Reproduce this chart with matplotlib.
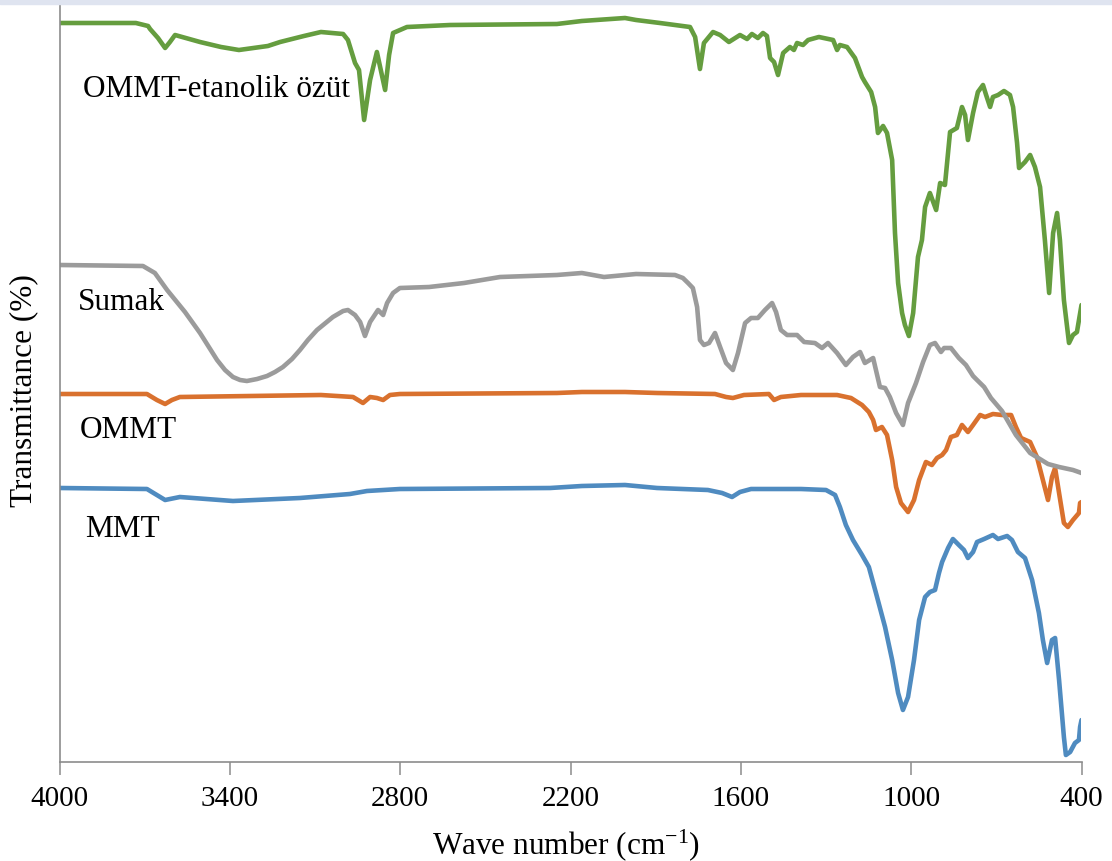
import matplotlib
matplotlib.use("Agg")
import matplotlib.pyplot as plt
from matplotlib.patches import Rectangle

plt.rcParams['font.family'] = ['Liberation Serif', 'DejaVu Serif']
plt.rcParams['mathtext.fontset'] = 'custom'
plt.rcParams['mathtext.rm'] = 'Liberation Serif'
plt.rcParams['mathtext.it'] = 'Liberation Serif:italic'

# FTIR spectra (wavenumber in cm-1, transmittance in arbitrary offset units)
ozut_wn = [4000, 3731, 3688, 3681, 3653, 3628, 3611, 3593, 3505, 3431, 3368, 3266, 3223, 3139, 3079, 3001,
           2984, 2959, 2945,
           2927, 2906, 2882, 2853, 2839, 2825, 2776, 2624, 2248, 2160, 2008, 1969, 1885, 1779, 1761, 1744,
           1730, 1698, 1673, 1642, 1603, 1578, 1561, 1540, 1522, 1508, 1497, 1483, 1469, 1451, 1427, 1413,
           1402, 1381, 1363, 1325, 1275, 1261, 1251, 1226, 1198, 1173, 1163, 1141, 1127, 1117, 1099, 1085,
           1067, 1057, 1046, 1032, 1022, 1008, 993, 976, 962, 951, 934, 912, 898, 881, 863, 839, 821, 810,
           800, 782, 765, 747, 736, 722, 712, 694, 673, 652, 641, 627, 620, 599, 581, 564, 546, 529, 514,
           500, 486, 476, 462, 444, 430, 416, 400]
ozut_t = [739, 739, 736, 733, 724, 714, 720, 727, 720, 715, 712, 716, 720, 726, 730, 728,
          722, 699, 692,
          642, 682, 710, 672, 707, 729, 735, 737, 738, 741, 744, 742, 739, 735, 725, 693,
          719, 730, 727, 720, 727, 723, 728, 724, 729, 726, 704, 700, 687, 709, 715, 712,
          719, 717, 722, 725, 722, 712, 717, 715, 704, 685, 680, 670, 655, 629, 636, 629,
          602, 529, 479, 449, 437, 426, 449, 505, 522, 555, 569, 552, 579, 577, 630, 634, 655, 647,
          622, 649, 670, 677, 667, 655, 665, 667, 671, 667, 655, 619, 594, 600, 607, 595, 575, 522, 469,
          529, 549, 522, 462, 419, 427, 430, 457]

sumak_wn = [4000, 3706, 3664, 3621, 3558, 3505, 3445, 3417, 3389, 3364, 3340, 3304, 3269, 3241, 3213, 3181,
            3153, 3125, 3093, 3037, 3001, 2984,
            2959, 2941, 2924, 2906, 2878, 2860, 2846, 2825, 2801, 2698, 2575, 2448, 2248, 2160, 2082, 1969,
            1832, 1804, 1786, 1769, 1754, 1744, 1730, 1712, 1691, 1673, 1652, 1628, 1610, 1585, 1564, 1540,
            1515, 1490, 1476, 1459, 1437, 1402, 1377, 1339, 1314, 1293, 1261, 1230, 1205, 1180, 1163, 1134,
            1110, 1092, 1075, 1053, 1029, 1011, 983, 958, 934, 916, 895, 884, 860, 832, 807, 782, 768, 743,
            719, 680, 631, 581, 518, 479, 430, 400]
sumak_t = [497, 496, 489, 472, 450, 429, 402, 392, 385, 382, 381, 383, 386, 390, 395, 403,
           412, 422, 432, 445, 451, 452,
           447, 440, 426, 440, 452, 447, 459, 469, 474, 475, 479, 485, 487, 489, 485, 488,
           487, 484, 479, 474, 455, 422, 417, 419, 429, 415, 399, 392, 409, 439, 444, 444,
           452, 459, 450, 432, 427, 427, 420, 419, 414, 419, 409, 397, 405, 410, 399, 404,
           375, 374, 365, 349, 337, 359, 379, 400, 417, 419, 410, 414, 414, 404, 397, 386, 382, 375,
           364, 351, 327, 309, 298, 295, 292, 289]

ommt_wn = [4000, 3692, 3657, 3628, 3604, 3576, 3079, 2966, 2931, 2906, 2882, 2860, 2836, 2801, 2248, 2160,
           2008, 1895, 1691, 1652, 1628, 1589, 1501, 1483, 1459, 1388, 1261, 1212, 1173, 1149, 1134, 1124,
           1103, 1085, 1067, 1053, 1036, 1011, 990, 972, 948, 927, 909, 891, 877, 860, 839, 821, 800, 782,
           757, 740, 712, 680, 648, 631, 613, 581, 557, 536, 518, 504, 493, 479, 462, 448, 430, 409, 405, 400]
ommt_t = [368, 368, 362, 358, 362, 365, 367, 365, 359, 365, 364, 362, 367, 368, 369, 370,
          370, 369, 368, 365, 364, 367, 368, 362, 365, 367, 367, 364, 357, 350, 342, 332,
          335, 327, 302, 275, 259, 250, 262, 282, 300, 297, 304, 307, 312, 325, 327, 337, 330, 337,
          347, 345, 348, 347, 347, 335, 324, 320, 305, 282, 262, 285, 294, 269, 239, 235, 242, 249, 259, 260]

mmt_wn = [4000, 3692, 3628, 3576, 3389, 3153, 2977, 2917, 2801, 2272, 2160, 2008, 1895, 1716, 1666, 1631,
          1603, 1564, 1388, 1300, 1268, 1251, 1230, 1205, 1173, 1149, 1124, 1092, 1067, 1046, 1029, 1011,
          990, 972, 951, 934, 916, 902, 891, 870, 853, 832, 814, 800, 782, 768, 743, 712, 694, 662,
          645, 624, 599, 574, 550, 536, 521, 504, 493, 479, 462, 455, 440, 423, 409, 405, 400]
mmt_t = [274, 273, 262, 265, 261, 264, 268, 271, 273, 274, 276, 277, 274, 272, 269, 265,
         270, 273, 273, 272, 267, 255, 237, 222, 207, 195, 169, 135, 102, 69, 52, 65,
         102, 142, 165, 170, 172, 189, 200, 214, 223, 217, 212, 204, 210, 220, 223, 227, 223, 226,
         222, 210, 204, 182, 149, 122, 99, 122, 124, 82, 25, 7, 10, 19, 22, 35, 42]

xticks = [4000, 3400, 2800, 2200, 1600, 1000, 400]

fig = plt.figure(figsize=(11.12, 8.61), dpi=100)
fig.patches.append(Rectangle((0, 1 - 4 / 861), 1, 4 / 861, transform=fig.transFigure,
                             color='#dfe4f0', zorder=0))
ax = fig.add_axes([59.5 / 1112, 99 / 861, 1022 / 1112, 758 / 861])

lw = 3.3
style = dict(lw=lw, solid_joinstyle='round', solid_capstyle='round')
ax.plot(mmt_wn, mmt_t, color='#4f8bc0', **style)
ax.plot(ommt_wn, ommt_t, color='#d9712e', **style)
ax.plot(sumak_wn, sumak_t, color='#9b9b9b', **style)
ax.plot(ozut_wn, ozut_t, color='#659d3f', **style)

ax.set_xlim(4000, 400)
ax.set_ylim(0, 758)
ax.set_xticks(xticks)
ax.set_yticks([])
for s in ['top', 'right']:
    ax.spines[s].set_visible(False)
for s in ['left', 'bottom']:
    ax.spines[s].set_color('#8c8c8c')
    ax.spines[s].set_linewidth(1.2)
ax.tick_params(axis='x', direction='out', length=9, width=1.1, color='#8c8c8c',
               labelsize=21, pad=8)

fs = 22.5
ax.text(3917, 665, 'OMMT-etanolik özüt', fontsize=fs, va='baseline', ha='left')
ax.text(3935, 452, 'Sumak', fontsize=fs, va='baseline', ha='left')
ax.text(3928, 324, 'OMMT', fontsize=fs, va='baseline', ha='left')
ax.text(3910, 225, 'MMT', fontsize=fs, va='baseline', ha='left')

fig.text(24 / 1112, 1 - 391 / 861, 'Transmittance (%)', rotation=90, fontsize=fs,
         ha='center', va='center')
fig.text(566 / 1112, 16 / 861, 'Wave number (cm$^{-1}$)', fontsize=fs, ha='center', va='center')

fig.savefig('out.png', dpi=100)
